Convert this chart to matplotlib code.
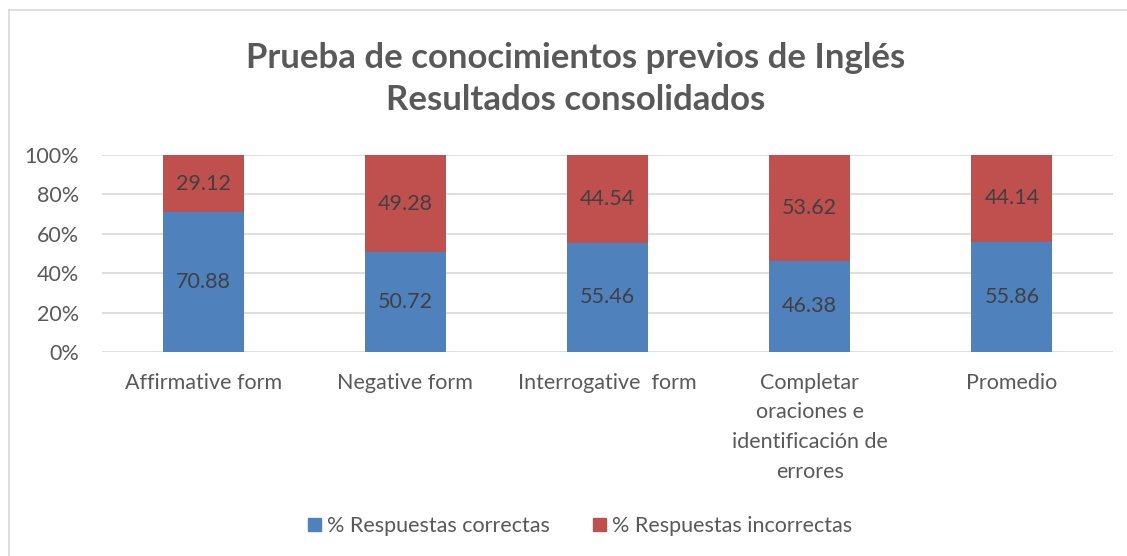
import matplotlib.pyplot as plt
from matplotlib.patches import Patch
from matplotlib.ticker import PercentFormatter

categories = ["Affirmative form", "Negative form", "Interrogative  form",
              "Completar\noraciones e\nidentificación de\nerrores", "Promedio"]
correctas = [70.88, 50.72, 55.46, 46.38, 55.86]
incorrectas = [29.12, 49.28, 44.54, 53.62, 44.14]

blue = "#4F81BD"
red = "#C0504D"
text_grey = "#595959"
label_grey = "#404040"

plt.rcParams['font.family'] = ['Lato', 'DejaVu Sans']

fig = plt.figure(figsize=(11.27, 5.56), dpi=100)
ax = fig.add_axes([0.0905, 0.3669, 0.897, 0.3543])

x = list(range(len(categories)))
tot = [c + i for c, i in zip(correctas, incorrectas)]
pc = [c / t * 100 for c, t in zip(correctas, tot)]
pi = [i / t * 100 for i, t in zip(incorrectas, tot)]

ax.bar(x, pc, width=0.4, color=blue, zorder=3)
ax.bar(x, pi, width=0.4, bottom=pc, color=red, zorder=3)

for xi, v, h in zip(x, correctas, pc):
    ax.text(xi, h / 2, f"{v:.2f}", ha='center', va='center', fontsize=15.5, color=label_grey, zorder=4)
for xi, v, b, h in zip(x, incorrectas, pc, pi):
    ax.text(xi, b + h / 2, f"{v:.2f}", ha='center', va='center', fontsize=15.5, color=label_grey, zorder=4)

ax.set_xlim(-0.5, len(categories) - 0.5)
ax.set_ylim(0, 100)
ax.set_yticks(range(0, 101, 20))
ax.yaxis.set_major_formatter(PercentFormatter(decimals=0))
ax.set_xticks(x)
ax.set_xticklabels(categories, linespacing=1.6)
ax.tick_params(axis='both', length=0, labelsize=15.5, colors=text_grey)
ax.tick_params(axis='x', pad=15)
ax.tick_params(axis='y', pad=16.5)
ax.grid(axis='y', color='#D9D9D9', linewidth=1.2, zorder=0)
for s in ax.spines.values():
    s.set_visible(False)

fig.text(576 / 1127, 1 - 79 / 556, "Prueba de conocimientos previos de Inglés\nResultados consolidados",
         ha='center', va='center', fontsize=25, fontweight='bold', color=text_grey, linespacing=1.4)

handles = [Patch(color=blue, label="% Respuestas correctas"),
           Patch(color=red, label="% Respuestas incorrectas")]
fig.legend(handles=handles, loc='center', bbox_to_anchor=(580 / 1127, 1 - 526 / 556), ncol=2,
           frameon=False, fontsize=15.5, labelcolor=text_grey, handlelength=0.6, handleheight=0.6,
           handletextpad=0.3, columnspacing=2.0)

# chart area border
fig.add_artist(plt.Line2D([9 / 1127, 9 / 1127], [0, 1 - 10 / 556], color='#D9D9D9', linewidth=1.2))
fig.add_artist(plt.Line2D([9 / 1127, 1], [1 - 10 / 556, 1 - 10 / 556], color='#D9D9D9', linewidth=1.2))

fig.savefig("out.png", dpi=100)
